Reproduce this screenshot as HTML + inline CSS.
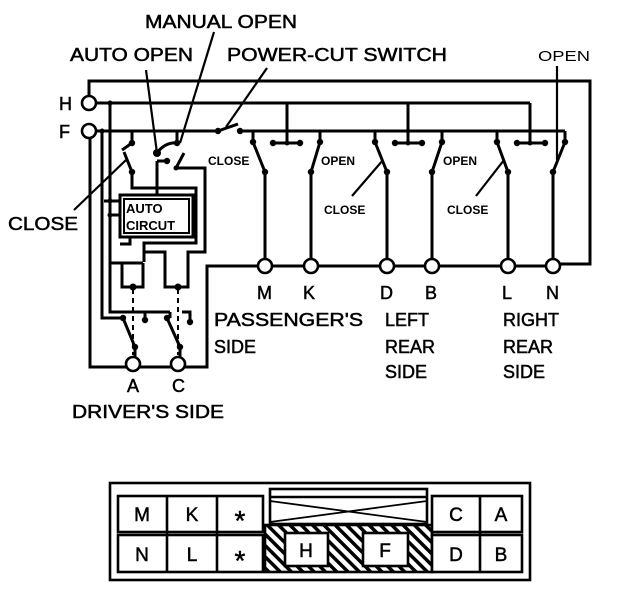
<!DOCTYPE html>
<html><head><style>
html,body{margin:0;padding:0;background:#fff;}
svg{display:block;}
text{font-family:"Liberation Sans",sans-serif;fill:#000;}
.b text{stroke:#000;stroke-width:0.5;}
</style></head><body>
<svg width="624" height="594" viewBox="0 0 624 594" xmlns="http://www.w3.org/2000/svg">
<g stroke="#000" stroke-width="3" fill="none" stroke-linejoin="miter">
<polyline points="89,96 89,81 590,81 590,264 560,264"/>
<line x1="96" y1="103" x2="530" y2="103"/>
<line x1="96" y1="131" x2="218" y2="131"/>
<line x1="240" y1="131" x2="565" y2="131"/>
<line x1="218" y1="131" x2="238" y2="124"/>
<line x1="287" y1="103" x2="287" y2="143"/>
<line x1="408" y1="103" x2="408" y2="143"/>
<line x1="530" y1="103" x2="530" y2="143"/>
<line x1="273" y1="143" x2="300" y2="143"/>
<line x1="395" y1="143" x2="422" y2="143"/>
<line x1="517" y1="143" x2="545" y2="143"/>
<polyline points="253,131 253,142 265,172 265,258"/>
<polyline points="320,131 320,142 311,172 311,258"/>
<polyline points="375,131 375,142 387,172 387,258"/>
<polyline points="442,131 442,142 432,172 432,258"/>
<polyline points="497,131 497,142 508,172 508,258"/>
<polyline points="565,131 565,142 553,172 553,258"/>
<polyline points="90,138 90,367 126,367"/>
<line x1="140" y1="367" x2="171" y2="367"/>
<polyline points="185,367 207,367 207,266 258,266"/>
<line x1="272" y1="266" x2="304" y2="266"/>
<line x1="318" y1="266" x2="380" y2="266"/>
<line x1="394" y1="266" x2="425" y2="266"/>
<line x1="439" y1="266" x2="501" y2="266"/>
<line x1="515" y1="266" x2="546" y2="266"/>
<polyline points="102,131 102,318 126,318"/>
<polyline points="110,103 110,312 170,312"/>
<polyline points="190,318 190,312 182,312"/>
<line x1="170" y1="312" x2="170" y2="318"/>
<polyline points="132,131 132,143 122,150"/>
<polyline points="124,152 132,172 132,188 196,188 196,243 144,243 144,262"/>
<polyline points="177,131 177,143"/>
<path d="M157,153 Q165,142 177,143"/>
<line x1="167" y1="161" x2="157" y2="161"/>
<polyline points="157,161 157,194"/>
<polyline points="184,153 176,168 205,168 205,252 188,252 188,262"/>
<rect x="120" y="195" width="73" height="42"/>
<rect x="124" y="199" width="65" height="34" stroke-width="2"/>
<polyline points="104,201 120,201"/>
<polyline points="110,215 120,215"/>
<polyline points="120,244 130,244 130,237"/>
<polyline points="110,263 143,263"/>
<polyline points="122,263 122,287 143,287 143,263"/>
<polyline points="144,255 144,252 165,252 165,287 188,287 188,262"/>
<polyline points="123,318 135,347 135,357"/>
<line x1="145" y1="312" x2="145" y2="320"/>
<polyline points="167,318 180,347 180,357"/>
<line x1="190" y1="318" x2="190" y2="322"/>
<line x1="146" y1="70" x2="157" y2="153" stroke-width="2.2"/>
<line x1="214" y1="32" x2="180" y2="143" stroke-width="2.2"/>
<line x1="267" y1="68" x2="226" y2="127" stroke-width="2.2"/>
<line x1="557" y1="66" x2="557" y2="160" stroke-width="2.2"/>
<line x1="74" y1="210" x2="126" y2="160" stroke-width="2.2"/>
<line x1="352" y1="196" x2="383" y2="160" stroke-width="2.2"/>
<line x1="476" y1="196" x2="504" y2="160" stroke-width="2.2"/>
</g>
<g stroke="#000" stroke-width="2" stroke-dasharray="5,4" fill="none">
<line x1="133" y1="289" x2="133" y2="355"/>
<line x1="178" y1="289" x2="178" y2="355"/>
</g>
<g fill="#000">
<circle cx="218" cy="131" r="3.2"/><circle cx="240" cy="131" r="3.2"/>
<circle cx="273" cy="143" r="3.2"/><circle cx="300" cy="143" r="3.2"/><circle cx="287" cy="143" r="2.5"/>
<circle cx="395" cy="143" r="3.2"/><circle cx="422" cy="143" r="3.2"/><circle cx="408" cy="143" r="2.5"/>
<circle cx="517" cy="143" r="3.2"/><circle cx="545" cy="143" r="3.2"/><circle cx="530" cy="143" r="2.5"/>
<circle cx="253" cy="142" r="3.2"/><circle cx="265" cy="172" r="3.2"/>
<circle cx="320" cy="142" r="3.2"/><circle cx="311" cy="172" r="3.2"/>
<circle cx="375" cy="142" r="3.2"/><circle cx="387" cy="172" r="3.2"/>
<circle cx="442" cy="142" r="3.2"/><circle cx="432" cy="172" r="3.2"/>
<circle cx="497" cy="142" r="3.2"/><circle cx="508" cy="172" r="3.2"/>
<circle cx="565" cy="142" r="3.2"/><circle cx="553" cy="172" r="3.2"/>
<circle cx="132" cy="143" r="3.2"/><circle cx="132" cy="172" r="3.2"/>
<circle cx="157" cy="153" r="4"/><circle cx="177" cy="143" r="3.2"/><circle cx="167" cy="161" r="3.2"/><circle cx="176" cy="168" r="2.5"/>
<circle cx="110" cy="201" r="2.5"/><circle cx="110" cy="215" r="2.5"/>
<circle cx="133" cy="287" r="3.5"/><circle cx="178" cy="287" r="3.5"/>
<circle cx="123" cy="318" r="3.2"/><circle cx="145" cy="320" r="3.2"/><circle cx="135" cy="347" r="3.2"/>
<circle cx="167" cy="318" r="3.2"/><circle cx="190" cy="322" r="3.2"/><circle cx="180" cy="347" r="3.2"/>
<circle cx="102" cy="131" r="2.5"/><circle cx="110" cy="103" r="2.5"/>
</g>
<g fill="#fff" stroke="#000" stroke-width="2.6">
<circle cx="89" cy="103" r="7"/><circle cx="89" cy="131" r="7"/>
<circle cx="265" cy="266" r="7"/><circle cx="311" cy="266" r="7"/>
<circle cx="387" cy="266" r="7"/><circle cx="432" cy="266" r="7"/>
<circle cx="508" cy="266" r="7"/><circle cx="553" cy="266" r="7"/>
<circle cx="133" cy="364" r="7"/><circle cx="178" cy="364" r="7"/>
</g>
<g font-size="18" class="b">
<text x="145" y="28" textLength="152" lengthAdjust="spacingAndGlyphs">MANUAL OPEN</text>
<text x="70" y="61" textLength="123" lengthAdjust="spacingAndGlyphs">AUTO OPEN</text>
<text x="227" y="61" textLength="220" lengthAdjust="spacingAndGlyphs">POWER-CUT SWITCH</text>
<text x="59" y="110">H</text>
<text x="59" y="138">F</text>
<text x="8" y="230" textLength="70" lengthAdjust="spacingAndGlyphs">CLOSE</text>
<text x="257" y="299">M</text><text x="303" y="299">K</text>
<text x="380" y="299">D</text><text x="425" y="299">B</text>
<text x="502" y="299">L</text><text x="546" y="299">N</text>
<text x="214" y="326" textLength="149" lengthAdjust="spacingAndGlyphs">PASSENGER'S</text>
<text x="214" y="353">SIDE</text>
<text x="385" y="326">LEFT</text><text x="385" y="353">REAR</text><text x="385" y="378">SIDE</text>
<text x="503" y="326">RIGHT</text><text x="503" y="353">REAR</text><text x="503" y="378">SIDE</text>
<text x="127" y="392">A</text><text x="172" y="392">C</text>
<text x="72" y="418" textLength="152" lengthAdjust="spacingAndGlyphs">DRIVER'S SIDE</text>
</g>
<text x="538" y="61" font-size="15" textLength="52" lengthAdjust="spacingAndGlyphs">OPEN</text>
<g font-size="12" font-weight="bold">
<text x="208" y="165">CLOSE</text>
<text x="321" y="165">OPEN</text>
<text x="324" y="214">CLOSE</text>
<text x="443" y="165">OPEN</text>
<text x="447" y="214">CLOSE</text>
<text x="126" y="213" font-size="13">AUTO</text>
<text x="126" y="230" font-size="13">CIRCUT</text>
</g>
<defs>
<pattern id="h" width="8" height="8" patternUnits="userSpaceOnUse" patternTransform="rotate(-45)">
<rect width="8" height="8" fill="#fff"/><rect width="3.5" height="8" fill="#000"/>
</pattern>
</defs>
<g stroke="#000" stroke-width="2.6">
<rect x="110" y="483" width="420" height="97" fill="#fff"/>
<rect x="265" y="525" width="167" height="47" fill="url(#h)"/>
<rect x="270" y="489" width="157" height="35" fill="#fff"/>
<line x1="270" y1="497" x2="427" y2="497"/>
<line x1="270" y1="501" x2="427" y2="522" stroke-width="1.8"/>
<line x1="427" y1="501" x2="270" y2="522" stroke-width="1.8"/>
<rect x="285" y="533" width="43" height="33" fill="#fff"/>
<rect x="363" y="533" width="45" height="33" fill="#fff"/>
<rect x="118" y="496" width="145" height="36" fill="#fff"/>
<rect x="118" y="535" width="145" height="37" fill="#fff"/>
<line x1="167" y1="496" x2="167" y2="572"/><line x1="217" y1="496" x2="217" y2="572"/>
<rect x="432" y="496" width="90" height="36" fill="#fff"/>
<rect x="432" y="535" width="90" height="37" fill="#fff"/>
<line x1="480" y1="496" x2="480" y2="572"/>
</g>
<g font-size="19" text-anchor="middle" class="b">
<text x="142" y="521">M</text><text x="192" y="521">K</text>
<text x="142" y="561">N</text><text x="192" y="561">L</text>
<text x="306" y="557">H</text><text x="385" y="557">F</text>
<text x="456" y="521">C</text><text x="501" y="521">A</text>
<text x="456" y="561">D</text><text x="501" y="561">B</text>
<text x="240" y="530" font-size="28">*</text><text x="240" y="570" font-size="28">*</text>
</g>
</svg>
</body></html>
